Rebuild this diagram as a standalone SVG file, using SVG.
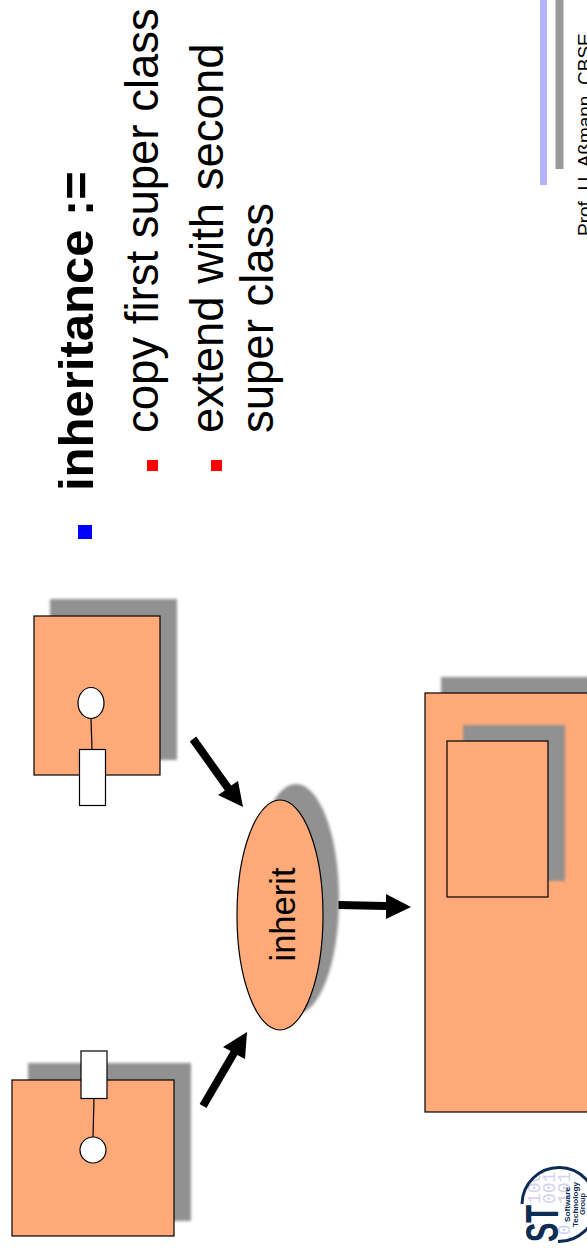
<svg xmlns="http://www.w3.org/2000/svg" width="587" height="1248" viewBox="0 0 587 1248">
<style>
.box{fill:#ffaa78;stroke:#000;stroke-width:1.200}
.sh{fill:#919191;filter:url(#b)}
.port{fill:#fff;stroke:#000;stroke-width:1.200}
.ln{stroke:#000;stroke-width:1.200;fill:none}
.arr{fill:#000}
text{font-family:"Liberation Sans",Arial,sans-serif;fill:#000}
.t{font-size:45.500px}
.bin{font-family:"Liberation Mono",monospace;font-size:18px;fill:#d2d2f2}
.lg{font-size:8px;font-weight:bold;fill:#0d2c54;text-anchor:middle}
</style>
<defs>
<filter id="b" x="-15%" y="-15%" width="130%" height="130%"><feGaussianBlur stdDeviation="1.800"/></filter>
<clipPath id="disc"><circle cx="559" cy="1205" r="36"/></clipPath>
</defs>
<rect width="587" height="1248" fill="#fff"/>
<g id="footer">
<rect x="540" y="0" width="7" height="185" fill="#b3b3ff"/>
<rect x="555.500" y="0" width="8" height="169" fill="#999"/>
<text transform="translate(590.500 236) rotate(-90)" font-size="19">Prof. U. Aßmann, CBSE</text>
</g>
<g id="bullets">
<rect x="78" y="525" width="14" height="14" fill="#00f"/>
<rect x="147" y="460" width="11" height="11" fill="#f00"/>
<rect x="211" y="460" width="11" height="11" fill="#f00"/>
<text transform="translate(93 491) rotate(-90)" font-size="49" font-weight="bold">inheritance :=</text>
<text class="t" transform="translate(158 433) rotate(-90)">copy first super class</text>
<text class="t" transform="translate(222.500 433) rotate(-90)">extend with second</text>
<text class="t" transform="translate(272.500 433) rotate(-90)">super class</text>
</g>
<g id="class-a">
<rect class="sh" x="28" y="1063" width="163" height="158"/>
<rect class="box" x="12" y="1080" width="162" height="156"/>
<line class="ln" x1="94" y1="1098" x2="93" y2="1137"/>
<rect class="port" x="81" y="1051" width="26" height="47.500"/>
<circle class="port" cx="93" cy="1150" r="13"/>
</g>
<g id="class-b">
<rect class="sh" x="50" y="599" width="127" height="161"/>
<rect class="box" x="34" y="616" width="126" height="159"/>
<line class="ln" x1="91" y1="719" x2="92" y2="749"/>
<ellipse class="port" cx="91" cy="703" rx="13" ry="15.500"/>
<rect class="port" x="79.500" y="749.500" width="26" height="56"/>
</g>
<g id="inherit">
<ellipse class="sh" cx="296" cy="899" rx="43" ry="115"/>
<ellipse class="box" cx="280" cy="915" rx="43" ry="115"/>
<text transform="translate(295 914.500) rotate(-90)" font-size="34.500" text-anchor="middle">inherit</text>
</g>
<g id="result">
<rect class="sh" x="441" y="677" width="180" height="419"/>
<rect class="box" x="425" y="693" width="180" height="419"/>
<rect class="sh" x="463" y="725" width="102" height="156"/>
<rect class="box" x="447" y="741" width="101" height="156"/>
</g>
<g id="connectors">
<polygon class="arr" points="199.600,1104 206.400,1108 237.400,1055 245,1059 247,1032 223,1047 230.600,1051"/>
<polygon class="arr" points="189.800,741.400 196.200,736.600 231.200,785.600 238,781 243,807 218,795 224.800,790.400"/>
<polygon class="arr" points="338.500,901 386,902 386,894 411,907 386,919 386,910 338.500,909"/>
</g>
<g id="logo">
<g clip-path="url(#disc)">
<text class="bin" transform="translate(539.500 1204) rotate(-90)">100</text>
<text class="bin" transform="translate(555 1204) rotate(-90)">001</text>
<text class="bin" transform="translate(570 1204) rotate(-90)">101</text>
<text class="bin" transform="translate(570 1246) rotate(-90)">10</text>
</g>
<path d="M522 1204A37 37 0 0 1 596 1205" fill="none" stroke="#0d2c54" stroke-width="3"/>
<path d="M558 1241.500A37 37 0 0 0 596 1205" fill="none" stroke="#0d2c54" stroke-width="3"/>
<text class="lg" transform="translate(569.500 1204.500) rotate(-90)" textLength="35" lengthAdjust="spacingAndGlyphs">Software</text>
<text class="lg" transform="translate(577.500 1204.500) rotate(-90)" textLength="45" lengthAdjust="spacingAndGlyphs">Technology</text>
<text class="lg" transform="translate(585 1204) rotate(-90)" textLength="22" lengthAdjust="spacingAndGlyphs">Group</text>
<text transform="translate(558 1242) rotate(-90)" font-size="47" font-weight="bold" style="fill:#0d2c54" textLength="37" lengthAdjust="spacingAndGlyphs">ST</text>
</g>
</svg>
